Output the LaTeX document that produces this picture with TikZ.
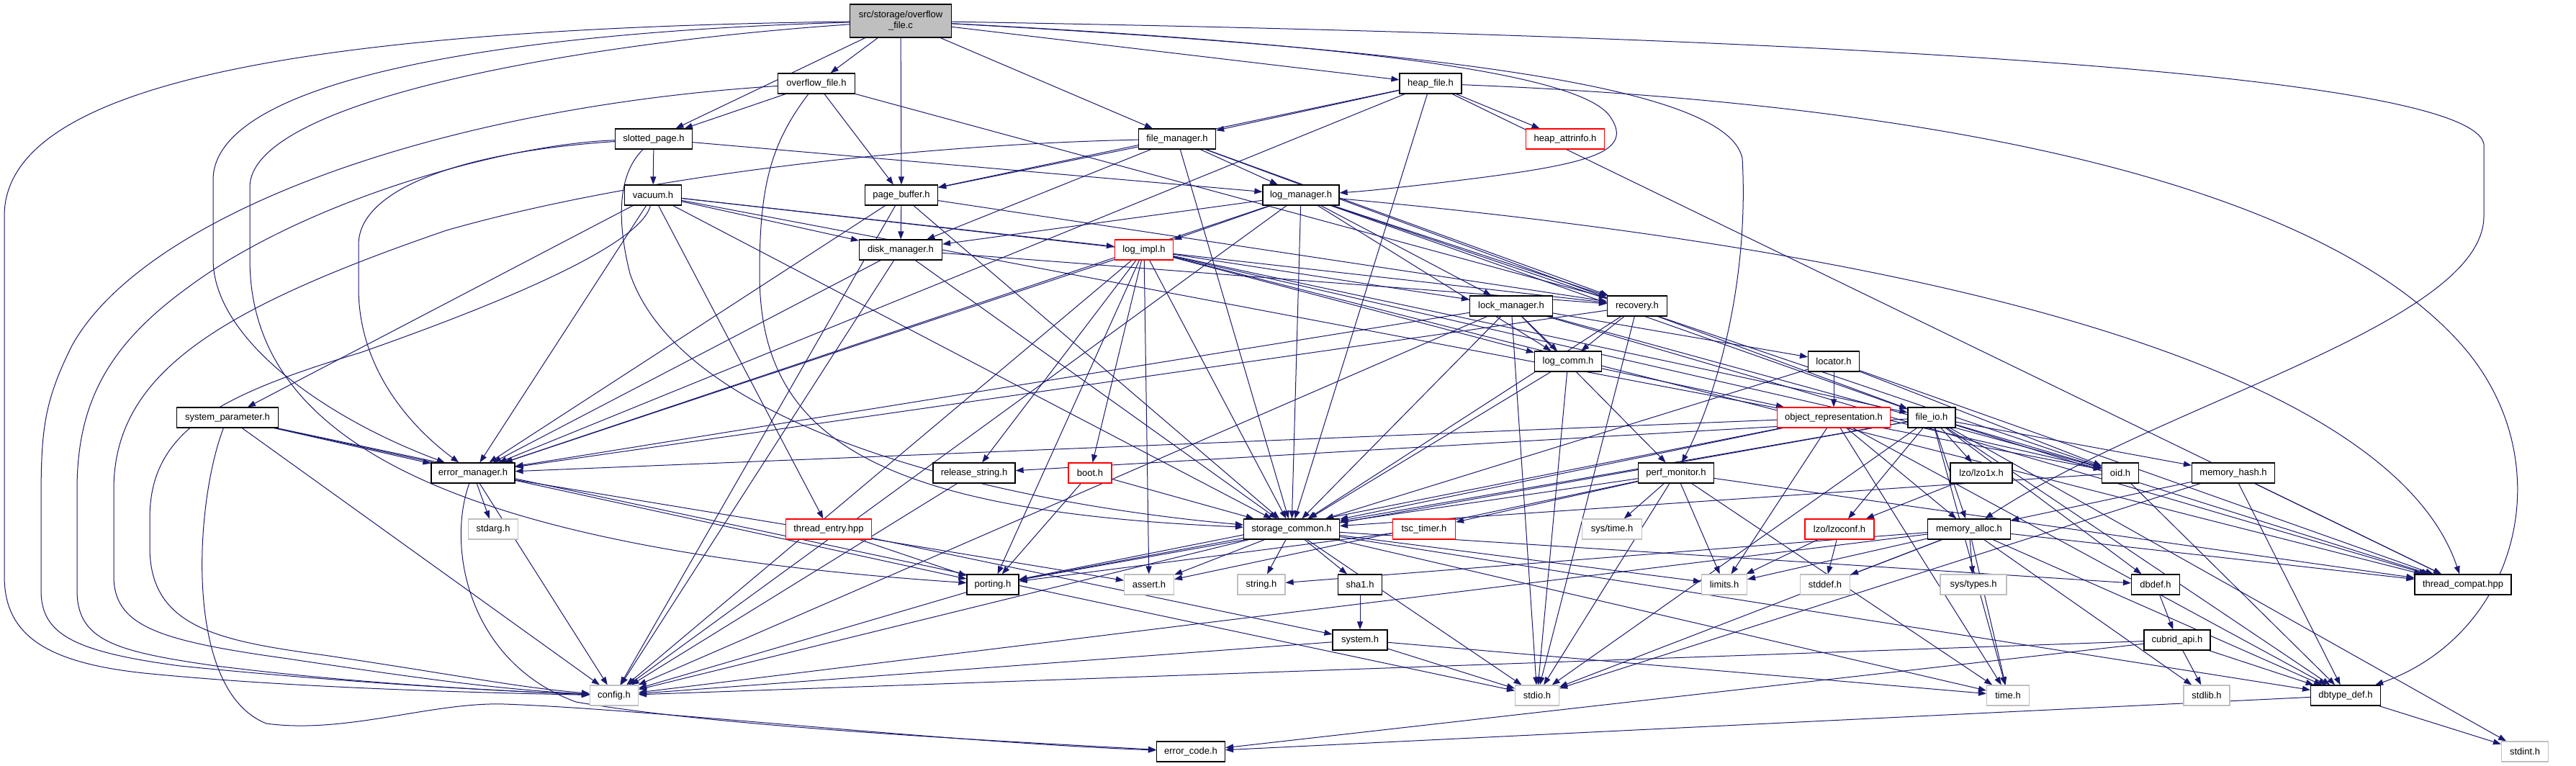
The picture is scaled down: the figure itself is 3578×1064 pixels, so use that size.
\documentclass[tikz,border=0pt]{standalone}
\usepackage{fontspec}
\setmainfont{Liberation Sans}
\usetikzlibrary{arrows.meta}
\definecolor{edgeblue}{HTML}{191970}
\definecolor{gbord}{HTML}{BFBFBF}
\definecolor{rootfill}{HTML}{BFBFBF}
\pgfdeclarelayer{bg}
\pgfdeclarelayer{paper}
\pgfsetlayers{paper,bg,main}
\begin{document}
\begin{tikzpicture}[x=1pt,y=-1pt,
  nb/.style={draw=black, fill=white, line width=1.2pt, minimum height=28pt, inner sep=0pt, font=\fontsize{13}{15}\selectfont},
  nr/.style={nb, draw=red},
  ng/.style={nb, draw=gbord},
  dep/.style={draw=edgeblue, line width=1pt, -{Triangle[length=11pt,width=8pt]}}]
\useasboundingbox (0,0) rectangle (3578,1064);
\begin{pgfonlayer}{paper}
\fill[white] (0,0) rectangle (3578,1064);
\end{pgfonlayer}
% nodes
\node[nb, fill=rootfill, minimum width=141pt, minimum height=46pt, align=center] (R) at (1251,29) {src/storage/overflow\\\_file.c};
\node[nb, minimum width=107pt] (OF) at (1134,116) {overflow\_file.h};
\node[nb, minimum width=107pt] (SP) at (908,193) {slotted\_page.h};
\node[nb, minimum width=79pt] (VA) at (907,271) {vacuum.h};
\node[nb, minimum width=101pt] (PB) at (1252,271) {page\_buffer.h};
\node[nb, minimum width=107pt] (FM) at (1635,193) {file\_manager.h};
\node[nb, minimum width=86pt] (HF) at (1987,116) {heap\_file.h};
\node[nr, minimum width=109pt] (HA) at (2174,193) {heap\_attrinfo.h};
\node[nb, minimum width=106pt] (LM) at (1807,271) {log\_manager.h};
\node[nb, minimum width=115pt] (DM) at (1251,347) {disk\_manager.h};
\node[nr, minimum width=81pt] (LI) at (1589,347) {log\_impl.h};
\node[nb, minimum width=115pt] (LK) at (2099,425) {lock\_manager.h};
\node[nb, minimum width=83pt] (RC) at (2274,425) {recovery.h};
\node[nb, minimum width=93pt] (LC) at (2178,502) {log\_comm.h};
\node[nb, minimum width=71pt] (LO) at (2547,502) {locator.h};
\node[nr, minimum width=157pt] (OR) at (2547,580) {object\_representation.h};
\node[nb, minimum width=66pt] (FI) at (2683,580) {file\_io.h};
\node[nb, minimum width=105pt] (PM) at (2328,657) {perf\_monitor.h};
\node[nb, minimum width=141pt] (SY) at (316,580) {system\_parameter.h};
\node[nb, minimum width=116pt] (EM) at (657,657) {error\_manager.h};
\node[nb, minimum width=114pt] (RS) at (1353,657) {release\_string.h};
\node[nr, minimum width=60pt] (BO) at (1514,657) {boot.h};
\node[nb, minimum width=86pt] (LZ) at (2752,657) {lzo/lzo1x.h};
\node[nb, minimum width=51pt] (OI) at (2945,657) {oid.h};
\node[nb, minimum width=115pt] (MH) at (3102,657) {memory\_hash.h};
\node[ng, minimum width=69pt] (SA) at (685,735) {stdarg.h};
\node[nr, minimum width=119pt] (TE) at (1151,735) {thread\_entry.hpp};
\node[nb, minimum width=133pt] (SC) at (1794,735) {storage\_common.h};
\node[nr, minimum width=87pt] (TS) at (1978,735) {tsc\_timer.h};
\node[ng, minimum width=83pt] (ST) at (2239,735) {sys/time.h};
\node[nr, minimum width=96pt] (LZC) at (2555,735) {lzo/lzoconf.h};
\node[nb, minimum width=115pt] (MA) at (2735,735) {memory\_alloc.h};
\node[nb, minimum width=72pt] (PO) at (1379,812) {porting.h};
\node[ng, minimum width=69pt] (AS) at (1596,812) {assert.h};
\node[ng, minimum width=66pt] (SG) at (1752,812) {string.h};
\node[nb, minimum width=61pt] (SH) at (1889,812) {sha1.h};
\node[ng, minimum width=63pt] (LIM) at (2395,812) {limits.h};
\node[ng, minimum width=69pt] (SD) at (2535,812) {stddef.h};
\node[ng, minimum width=92pt] (SYT) at (2741,812) {sys/types.h};
\node[nb, minimum width=67pt] (DB) at (2994,812) {dbdef.h};
\node[nb, minimum width=134pt] (TC) at (3421,812) {thread\_compat.hpp};
\node[nb, minimum width=76pt] (SYS) at (1889,889) {system.h};
\node[nb, minimum width=92pt] (CA) at (3024,889) {cubrid\_api.h};
\node[ng, minimum width=67pt] (CF) at (853,966) {config.h};
\node[ng, minimum width=61pt] (SI) at (2135,966) {stdio.h};
\node[ng, minimum width=59pt] (TI) at (2789,966) {time.h};
\node[ng, minimum width=64pt] (SL) at (3065,966) {stdlib.h};
\node[nb, minimum width=97pt] (DT) at (3258,966) {dbtype\_def.h};
\node[nb, minimum width=95pt] (EC) at (1654,1044) {error\_code.h};
\node[ng, minimum width=65pt] (SN) at (3507,1044) {stdint.h};
% edges
\begin{pgfonlayer}{bg}
\foreach \s/\t in {R/OF, R/SP, R/PB, R/FM, R/HF,
  OF/SP, OF/PB, OF/RC,
  SP/VA, SP/LM,
  VA/DM, VA/LI, VA/RC, VA/OI, VA/SY, VA/EM, VA/SC, VA/TE,
  PB/DM, PB/CF, PB/EM, PB/SC, PB/RC,
  HF/HA, HF/PB, HF/FM, HF/SC, HF/EM, HF/TC,
  FM/PB, FM/LM, FM/DM, FM/SC, FM/RC, FM/FI,
  LM/DM, LM/LI, LM/LK, LM/RC, LM/LC, LM/SC, LM/EM, LM/CF, LM/OI, LM/FI,
  DM/RC, DM/EM, DM/SC, DM/CF,
  LI/RS, LI/BO, LI/AS, LI/SC, LI/PO, LI/EM, LI/CF, LI/LC, LI/LK, LI/OI, LI/FI, LI/TC,
  LK/LC, LK/LO, LK/EM, LK/SC, LK/OI, LK/TC, LK/SI, LK/PM, LK/CF,
  RC/LC, RC/EM, RC/SC, RC/SI,
  LC/OR, LC/SC, LC/SI,
  LO/OR, LO/SC, LO/OI, LO/TC,
  OR/EM, OR/SC, OR/PO, OR/LIM, OR/MA, OR/TI, OR/DT,
  FI/RS, FI/SC, FI/PO, FI/LZ, FI/LZC, FI/OI, FI/MH, FI/MA, FI/TI, FI/SI, FI/TC, FI/DT, FI/DB, FI/SN,
  PM/SC, PM/TS, PM/ST, PM/SI, PM/TI, PM/TC, PM/AS, PM/LIM,
  SY/EM, SY/PO, SY/SI, SY/CF,
  EM/SA, EM/AS, EM/CF,
  TE/PO, TE/SYS,
  RS/CF,
  BO/SC, BO/PO,
  SC/PO, SC/AS, SC/SG, SC/SH, SC/CF, SC/SI, SC/LIM, SC/TI, SC/DB, SC/DT,
  SH/SYS,
  SYS/CF, SYS/SI, SYS/TI,
  PO/CF,
  TS/PO,
  LZ/LZC,
  LZC/LIM, LZC/SD,
  MA/LIM, MA/SD, MA/SYT, MA/TC, MA/DT, MA/SI, MA/TI, MA/CF, MA/SG, MA/SL,
  MH/MA, MH/TC, MH/DT, MH/SI,
  OI/SC, OI/DT,
  DB/CA,
  CA/SL, CA/DT, CA/CF, CA/EC,
  DT/EC, DT/SN}
  \draw[dep] (\s) -- (\t);
% long routed edges
\draw[dep] (R) .. controls (450,40) and (6,110) .. (6,300) -- (6,800) .. controls (6,880) and (60,920) .. (200,935) .. controls (400,955) and (650,962) .. (CF);
\draw[dep] (OF) .. controls (600,150) and (200,300) .. (100,480) .. controls (60,560) and (57,600) .. (57,700) -- (57,820) .. controls (57,880) and (100,905) .. (250,925) .. controls (500,950) and (700,960) .. (CF);
\draw[dep] (SP) .. controls (700,200) and (420,280) .. (260,400) .. controls (150,480) and (107,560) .. (107,680) -- (107,820) .. controls (107,890) and (160,905) .. (300,925) .. controls (500,950) and (700,960) .. (CF);
\draw[dep] (FM) .. controls (1300,200) and (900,240) .. (620,320) .. controls (300,430) and (158,520) .. (158,680) -- (158,800) .. controls (158,870) and (220,890) .. (400,915) .. controls (600,945) and (700,958) .. (CF);
\draw[dep] (VA) .. controls (890,340) and (700,420) .. (500,490) .. controls (300,550) and (208,600) .. (208,720) -- (208,760) .. controls (208,870) and (300,890) .. (450,910) .. controls (650,940) and (720,955) .. (CF);
\draw[dep] (R) .. controls (700,45) and (296,110) .. (296,250) -- (296,360) .. controls (296,470) and (450,580) .. (EM);
\draw[dep] (R) .. controls (800,60) and (347,140) .. (347,260) -- (347,360) .. controls (347,600) and (600,760) .. (PO);
\draw[dep] (SP) .. controls (650,210) and (498,260) .. (498,340) -- (498,400) .. controls (498,520) and (580,600) .. (EM);
\draw[dep] (SP) .. controls (860,240) and (855,300) .. (875,380) .. controls (950,600) and (1400,700) .. (SC);
\draw[dep] (OF) .. controls (1070,200) and (1055,260) .. (1055,380) .. controls (1055,600) and (1200,710) .. (SC);
\draw[dep] (R) .. controls (1750,55) and (2180,90) .. (2235,160) .. controls (2275,215) and (2200,230) .. (1990,255) .. controls (1930,262) and (1890,266) .. (LM);
\draw[dep] (R) .. controls (2000,70) and (2400,120) .. (2420,220) .. controls (2430,400) and (2380,560) .. (PM);
\draw[dep] (R) .. controls (2500,50) and (3430,100) .. (3450,200) -- (3450,300) .. controls (3450,450) and (3000,560) .. (MA);
\draw[dep] (HF) .. controls (2600,140) and (3200,230) .. (3420,480) .. controls (3560,640) and (3500,880) .. (DT);
\draw[dep] (LM) .. controls (3000,380) and (3350,600) .. (TC);
\draw[dep] (SY) .. controls (270,700) and (255,960) .. (370,1005) .. controls (480,1020) and (600,975) .. (700,978) .. controls (900,985) and (1300,1030) .. (EC);
\draw[dep] (EM) .. controls (620,760) and (650,920) .. (800,975) .. controls (1000,1010) and (1400,1030) .. (EC);
\end{pgfonlayer}
\end{tikzpicture}
\end{document}
